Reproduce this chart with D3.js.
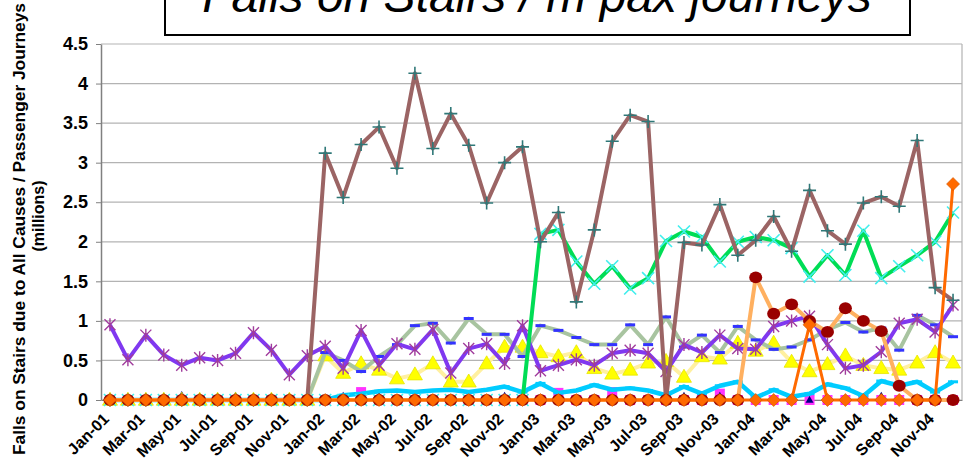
<!DOCTYPE html>
<html>
<head>
<meta charset="utf-8">
<script src="https://cdn.jsdelivr.net/npm/d3@7"></script>
<style>
  html, body { margin: 0; padding: 0; background: #fff; }
  svg { display: block; }
  text { font-family: "Liberation Sans", Arial, sans-serif; }
</style>
</head>
<body>
<svg id="chart" width="964" height="461"></svg>
<script>
const title = "Falls on Stairs / m pax journeys";
const yTitle1 = "Falls on Stairs due to All Causes / Passenger Journeys";
const yTitle2 = "(millions)";

const months = ["Jan-01","Feb-01","Mar-01","Apr-01","May-01","Jun-01","Jul-01","Aug-01","Sep-01","Oct-01","Nov-01","Dec-01",
  "Jan-02","Feb-02","Mar-02","Apr-02","May-02","Jun-02","Jul-02","Aug-02","Sep-02","Oct-02","Nov-02","Dec-02",
  "Jan-03","Feb-03","Mar-03","Apr-03","May-03","Jun-03","Jul-03","Aug-03","Sep-03","Oct-03","Nov-03","Dec-03",
  "Jan-04","Feb-04","Mar-04","Apr-04","May-04","Jun-04","Jul-04","Aug-04","Sep-04","Oct-04","Nov-04","Dec-04"];
const tickLabels = ["Jan-01","Mar-01","May-01","Jul-01","Sep-01","Nov-01","Jan-02","Mar-02","May-02","Jul-02","Sep-02","Nov-02",
  "Jan-03","Mar-03","May-03","Jul-03","Sep-03","Nov-03","Jan-04","Mar-04","May-04","Jul-04","Sep-04","Nov-04"];
const yTicks = [0,0.5,1,1.5,2,2.5,3,3.5,4,4.5];

const purpleVals = [0.95,0.51,0.82,0.57,0.44,0.535,0.50,0.59,0.85,0.63,0.32,0.56,
  0.68,0.40,0.88,0.44,0.71,0.64,0.89,0.34,0.65,0.71,0.46,0.94,
  0.37,0.44,0.51,0.44,0.59,0.63,0.59,0.36,0.70,0.60,0.82,0.65,
  0.64,0.93,1.00,1.06,0.70,0.40,0.44,0.61,0.97,1.02,0.86,1.20];
const brownVals = [0,0,0,0,0,0,0,0,0,0,0,0,
  3.12,2.56,3.23,3.45,2.93,4.13,3.18,3.62,3.22,2.49,3.00,3.20,
  2.00,2.37,1.24,2.15,3.27,3.60,3.52,0,1.99,1.96,2.47,1.83,
  2.02,2.32,1.88,2.65,2.14,1.97,2.49,2.57,2.45,3.28,1.42,1.26];
const greenVals = [0,0,0,0,0,0,0,0,0,0,0,0,
  0,0,0,0,0,0,0,0,0,0,0,0,
  2.10,2.15,1.75,1.47,1.69,1.41,1.54,2.01,2.13,2.06,1.75,2.00,
  2.06,2.02,1.92,1.56,1.83,1.58,2.14,1.54,1.69,1.83,2.00,2.37];
const sageVals = [0,0,0,0,0,0,0,0,0,0,0,0,
  0.60,0.50,0.36,0.55,0.70,0.94,0.97,0.72,1.03,0.83,0.83,0.55,
  0.94,0.88,0.79,0.70,0.70,0.95,0.70,1.05,0.67,0.82,0.60,0.93,
  0.76,0.64,0.67,0.76,0.89,0.98,0.86,0.91,0.63,1.07,0.95,0.80];
const yellowVals = [0,0,0,0,0,0,0,0,0,0,0,0,
  0.56,0.34,0.46,0.38,0.27,0.32,0.46,0.23,0.23,0.46,0.67,0.67,
  0.60,0.55,0.60,0.40,0.33,0.38,0.47,0.49,0.29,0.55,0.52,0.72,
  0.62,0.72,0.48,0.36,0.45,0.56,0.44,0.40,0.38,0.47,0.60,0.47];
const cyanVals = [0,0,0,0,0,0,0,0,0,0,0,0,
  0,0.06,0.08,0.11,0.12,0.10,0.12,0.13,0.10,0.13,0.17,0.10,
  0.21,0.09,0.12,0.19,0.13,0.15,0.12,0.06,0.17,0.08,0.18,0.23,
  0.03,0.13,0.04,0.08,0.20,0.15,0.05,0.24,0.18,0.23,0.10,0.23];
const circleVals = [0,0,0,0,0,0,0,0,0,0,0,0,
  0,0,0,0,0,0,0,0,0,0,0,0,
  0,0,0,0,0,0,0,0,0,0,0,0,
  1.55,1.09,1.21,1.00,0.86,1.16,1.00,0.87,0.18,0,0,0];
const orangeVals = [0,0,0,0,0,0,0,0,0,0,0,0,
  0,0,0,0,0,0,0,0,0,0,0,0,
  0,0,0,0,0,0,0,0,0,0,0,0,
  0,0,0,0.95,0,0,0,0,0,0,0,2.73];
const magentaVals = [0,0,0,0,0,0,0,0,0,0,0,0,
  0,0,0.10,0,0,0,0,0,0,0,0,0,
  0,0.09,0,0,0.10,0,0,0,0,0,0.08,0,
  0,0,0,0,0,0,0,0,0,0,0,0];
const navyVals = [0,0,0,0,0.06,0,0,0.05,0,0,0,0,
  0,0.05,0,0.05,0,0,0,0,0,0,0.05,0,
  0,0,0,0,0,0,0,0,0.05,0,0.05,0,
  0,0,0,0,0,0,0,0.05,0,0,0,0];

const svg = d3.select("#chart");
const plot = {left: 101, right: 962, top: 44, bottom: 400};

const x = d3.scaleBand().domain(months).range([plot.left, plot.right]).padding(0);
const y = d3.scaleLinear().domain([0, 4.5]).range([plot.bottom, plot.top]);
const cx = (i) => x(months[i]) + x.bandwidth() / 2;

// Title box
svg.append("rect").attr("x", 165).attr("y", -6).attr("width", 745).attr("height", 41)
  .attr("fill", "#fff").attr("stroke", "#000").attr("stroke-width", 2);
svg.append("text").attr("x", 537).attr("y", 12).attr("text-anchor", "middle")
  .attr("font-size", 48).attr("font-style", "italic").text(title);

// Gridlines
svg.append("g").selectAll("line").data(yTicks).join("line")
  .attr("x1", plot.left).attr("x2", plot.right)
  .attr("y1", d => y(d)).attr("y2", d => y(d))
  .attr("stroke", "#b3b3b3").attr("stroke-width", 1.2);
svg.append("line").attr("x1", plot.right).attr("x2", plot.right).attr("y1", plot.top).attr("y2", plot.bottom)
  .attr("stroke", "#b3b3b3").attr("stroke-width", 1.2);

// Y axis
const yAxis = svg.append("g").attr("transform", `translate(${plot.left},0)`)
  .call(d3.axisLeft(y).tickValues(yTicks).tickSize(5).tickSizeOuter(0).tickPadding(8).tickFormat(d => String(d)));
yAxis.select(".domain").attr("stroke", "#808080").attr("stroke-width", 1.5);
yAxis.selectAll(".tick line").attr("stroke", "#808080");
yAxis.selectAll("text").attr("font-size", 18).attr("font-weight", "bold").attr("fill", "#000")
  .attr("font-family", "Liberation Sans, Arial, sans-serif");

// X axis
const xAxis = svg.append("g").attr("transform", `translate(0,${plot.bottom})`)
  .call(d3.axisBottom(x).tickValues(tickLabels).tickSize(0).tickSizeOuter(0));
xAxis.select(".domain").attr("stroke", "#808080");
xAxis.selectAll("text").attr("y", null).attr("dy", null).attr("x", null)
  .attr("text-anchor", "end")
  .attr("transform", "translate(0,20) rotate(-45)")
  .attr("font-size", 16).attr("font-weight", "bold").attr("fill", "#000")
  .attr("font-family", "Liberation Sans, Arial, sans-serif");

// Y title
const yt1 = svg.append("g").attr("transform", "translate(0,229) rotate(-90)");
yt1.append("text").attr("x", 0).attr("y", 25).attr("text-anchor", "middle")
  .attr("font-size", 17).attr("font-weight", "bold")
  .attr("textLength", 452).attr("lengthAdjust", "spacingAndGlyphs").text(yTitle1);
const yt2 = svg.append("g").attr("transform", "translate(0,216) rotate(-90)");
yt2.append("text").attr("x", 0).attr("y", 44).attr("text-anchor", "middle")
  .attr("font-size", 16).attr("font-weight", "bold").text(yTitle2);

const idx = d3.range(months.length);
const lineOf = (vals) => d3.line().x(i => cx(i)).y(i => y(vals[i]))(idx);

function drawLine(vals, color, width) {
  svg.append("path").attr("d", lineOf(vals)).attr("fill", "none")
    .attr("stroke", color).attr("stroke-width", width).attr("stroke-linejoin", "round");
}
function markers(vals, draw) {
  const g = svg.append("g");
  idx.forEach(i => draw(g.append("g").attr("transform", `translate(${cx(i)},${y(vals[i])})`)));
}
const plus = (color, s) => g => {
  g.append("path").attr("d", `M${-s},0H${s}M0,${-s}V${s}`).attr("stroke", color).attr("stroke-width", 1.6);
};
const cross = (color, s) => g => {
  g.append("path").attr("d", `M${-s},${-s}L${s},${s}M${-s},${s}L${s},${-s}`).attr("stroke", color).attr("stroke-width", 1.6);
};
const star = (color, s) => g => {
  g.append("path").attr("d", `M${-s},${-s}L${s},${s}M${-s},${s}L${s},${-s}M0,${-s - 1}V${s + 1}`).attr("stroke", color).attr("stroke-width", 1.4);
};
const dash = (color, w, h) => g => {
  g.append("rect").attr("x", -w / 2).attr("y", -h / 2).attr("width", w).attr("height", h).attr("fill", color);
};
const tri = (color, w, h, stroke) => g => {
  g.append("path").attr("d", `M0,${-h * 0.6}L${w / 2},${h * 0.4}L${-w / 2},${h * 0.4}Z`).attr("fill", color)
    .attr("stroke", stroke || "none").attr("stroke-width", 0.8);
};
const square = (color, s) => g => {
  g.append("rect").attr("x", -s / 2).attr("y", -s / 2).attr("width", s).attr("height", s).attr("fill", color);
};
const circ = (color, r) => g => {
  g.append("ellipse").attr("rx", r).attr("ry", r - 0.6).attr("fill", color);
};
const diamond = (color, s, stroke) => g => {
  g.append("path").attr("d", `M0,${-s}L${s},0L0,${s}L${-s},0Z`).attr("fill", color)
    .attr("stroke", stroke).attr("stroke-width", 0.6);
};

// Series, bottom to top
markers(magentaVals, square("#ff33ff", 10));
markers(navyVals, tri("#000080", 8, 7));
drawLine(cyanVals, "#00ccff", 4.5);
markers(cyanVals, dash("#00ccff", 10, 3));
drawLine(yellowVals, "#fff0a0", 4);
markers(yellowVals, tri("#ffff00", 15, 13, "#e6e600"));
drawLine(sageVals, "#a8c4a0", 4);
markers(sageVals, dash("#3333ff", 10, 3));
drawLine(purpleVals, "#8038f0", 4);
markers(purpleVals, star("#a03c9c", 5.5));
drawLine(greenVals, "#00dd55", 4);
markers(greenVals, cross("#40eeee", 6));
drawLine(brownVals, "#9b6464", 4);
markers(brownVals, plus("#2f7878", 6.5));
drawLine(circleVals, "#ffb060", 4);
markers(circleVals, circ("#990000", 6.5));
drawLine(orangeVals, "#ff6a00", 3);
markers(orangeVals, diamond("#ff6a00", 6.5, "#cc5500"));
</script>
</body>
</html>
